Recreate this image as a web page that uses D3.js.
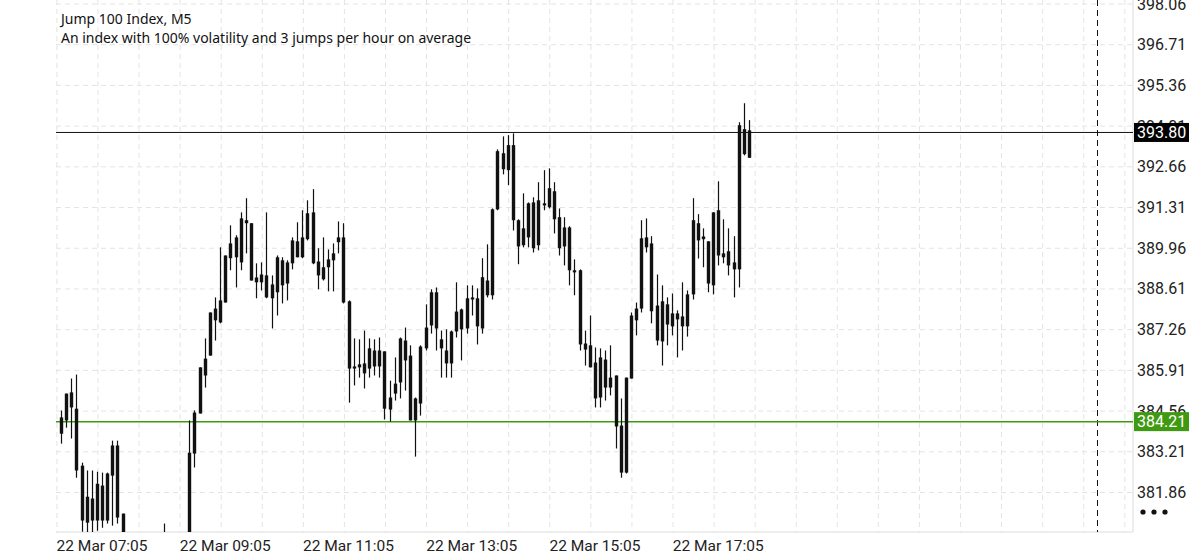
<!DOCTYPE html>
<html><head><meta charset="utf-8">
<script src="https://cdn.jsdelivr.net/npm/d3@7/dist/d3.min.js"></script>
<style>body{margin:0;background:#fff}svg{display:block;font-family:Roboto,"Noto Sans",sans-serif}</style>
</head><body><svg id="c" width="1200" height="554"></svg>
<script>
// [high, bodyTop, bodyBottom, low]
const highs=[384.58,385.14,385.64,385.77,382.85,382.59,382.59,382.55,382.52,382.52,383.58,383.58,381.16,380.4,380.2,380.0,380.1,380.3,380.2,380.4,380.83,380.4,380.3,380.4,380.5,384.25,384.58,386.01,386.97,387.83,388.33,389.99,389.72,390.72,390.39,391.15,391.62,390.79,389.46,389.49,391.15,389.06,389.72,389.66,389.56,390.32,390.82,391.22,391.55,391.92,389.96,390.32,389.92,390.12,390.85,390.79,388.23,386.97,386.94,387.23,386.97,386.94,387.00,386.54,385.57,386.34,387.00,387.33,386.74,385.01,386.74,388.10,388.60,388.66,387.23,387.27,387.23,388.83,387.96,388.73,388.73,388.63,389.63,390.09,391.28,393.24,393.67,393.71,393.77,390.92,391.78,391.48,391.65,392.15,392.55,392.61,392.15,391.28,390.99,390.69,389.59,389.26,387.23,387.73,386.67,386.64,386.57,386.74,385.74,384.98,385.67,387.83,388.16,390.89,390.95,390.36,389.09,388.73,388.33,388.46,387.90,388.83,388.56,391.62,391.09,390.62,390.19,391.15,392.18,390.92,390.62,390.36,394.14,394.77,394.21];
const bodyTops=[384.35,385.14,385.18,384.64,382.75,381.72,381.66,382.15,382.09,382.49,383.42,383.42,381.16,380.2,380.0,379.8,379.9,380.0,380.0,380.1,380.3,380.2,380.1,380.2,380.3,383.18,384.51,386.01,386.30,387.83,387.96,388.23,389.72,390.12,390.32,390.95,390.89,390.79,388.99,389.09,389.06,388.76,389.66,389.56,389.49,390.22,390.19,390.32,391.12,391.15,389.52,389.33,389.59,389.79,390.32,390.32,388.20,386.04,386.11,386.14,386.64,386.57,386.57,386.54,385.01,385.47,386.97,386.90,386.40,384.98,386.70,387.33,388.50,388.50,386.94,386.57,387.20,387.86,387.93,388.30,388.33,388.30,389.00,388.89,391.25,393.18,393.11,393.38,393.38,390.89,390.62,391.45,391.48,391.55,391.45,391.95,391.85,390.99,390.65,390.65,389.23,389.23,386.80,386.74,386.17,386.34,386.27,385.67,385.74,384.08,385.67,387.73,387.96,390.29,390.32,390.12,388.06,388.20,388.10,387.80,387.80,387.70,388.43,390.89,390.79,390.35,390.19,391.15,391.22,389.79,389.86,389.49,394.04,393.91,393.87];
const bodyBottoms=[383.81,384.25,384.68,382.59,380.93,380.86,380.93,380.93,380.93,380.93,382.42,381.03,380.26,379.9,379.6,379.5,379.6,379.7,379.8,379.8,380.0,379.9,379.8,379.9,380.0,380.26,383.15,384.48,385.74,386.40,387.57,387.50,388.16,389.63,389.66,389.49,390.79,388.89,388.83,388.83,388.33,388.30,388.50,388.73,388.79,389.46,389.66,389.66,390.26,389.46,389.06,388.93,389.33,389.56,390.16,388.16,385.97,385.97,386.01,385.81,385.97,386.04,386.04,384.64,384.61,385.14,385.51,386.24,384.25,384.25,384.81,386.64,387.40,387.30,386.64,386.14,386.14,387.20,387.27,387.30,388.26,387.37,387.30,388.40,388.40,391.25,392.58,392.55,390.89,390.02,390.06,390.32,389.96,390.06,391.38,391.32,390.92,389.96,390.02,389.23,389.16,386.77,386.60,386.01,384.98,385.01,385.34,385.34,384.05,382.52,382.52,385.64,387.57,387.96,389.99,387.87,386.90,386.87,387.43,387.37,387.60,387.37,387.37,388.43,390.22,390.26,388.79,388.73,389.72,389.66,389.39,389.26,389.26,393.08,392.96];
const lows=[383.48,384.01,383.65,382.35,380.56,380.4,380.4,380.59,380.69,380.83,380.76,380.83,380.10,379.7,379.4,379.3,379.4,379.5,379.5,379.6,379.8,379.7,379.6,379.7,379.8,380.1,382.69,384.48,385.34,386.40,386.90,387.47,388.16,389.23,388.66,389.23,389.79,388.89,388.30,388.56,388.30,387.30,387.73,388.13,388.23,389.26,389.66,389.63,390.22,389.43,388.60,388.89,388.53,388.53,389.79,388.13,384.84,385.41,385.67,385.31,385.67,385.74,385.67,384.28,384.21,384.91,384.98,385.24,384.25,383.05,384.41,386.57,387.13,386.57,385.67,385.67,385.67,387.00,386.24,387.13,387.73,386.77,387.13,388.33,388.26,391.22,392.41,392.05,390.55,389.43,389.99,389.99,389.82,389.89,391.22,391.28,390.45,389.72,389.39,388.73,388.40,386.57,386.07,386.01,384.68,384.68,384.91,385.08,383.32,382.35,382.49,385.64,387.07,387.83,389.82,387.47,386.74,386.07,386.74,387.07,386.34,386.57,387.03,388.26,389.62,389.33,388.50,388.43,389.39,389.46,389.06,388.33,388.66,393.04,392.96];
const tickValues=[398.06,396.71,395.36,394.01,392.66,391.31,389.96,388.61,387.26,385.91,384.56,383.21,381.86];
const timeLabels=["22 Mar 07:05","22 Mar 09:05","22 Mar 11:05","22 Mar 13:05","22 Mar 15:05","22 Mar 17:05"];
const timeLabelIdx=[8,32,56,80,104,128];
const currentPrice=393.80, levelPrice=384.21;
const title="Jump 100 Index, M5", subtitle="An index with 100% volatility and 3 jumps per hour on average";

const svg=d3.select("#c");
const L=56,R=1133,T=0,B=532;
const x=d3.scaleLinear().domain([0,134]).range([61,749]);
const y=d3.scaleLinear().domain([381.86,398.06]).range([492.5,4]);
svg.append("defs").append("clipPath").attr("id","cp").append("rect").attr("x",L).attr("y",T).attr("width",R-L).attr("height",B-T);
const g=svg.append("g");
for(let k=0;k<27;k++){const gx=x(-0.8+8*k); if(gx>R)break;
 g.append("line").attr("x1",gx).attr("x2",gx).attr("y1",T).attr("y2",B).attr("stroke","#e4e4e4").attr("stroke-dasharray","5,4");}
tickValues.forEach(v=>g.append("line").attr("x1",L).attr("x2",R).attr("y1",y(v)).attr("y2",y(v)).attr("stroke","#e4e4e4").attr("stroke-dasharray","5,4"));
g.append("line").attr("x1",R).attr("x2",R).attr("y1",0).attr("y2",B).attr("stroke","#dcdcdc");
g.append("line").attr("x1",L).attr("x2",R).attr("y1",B).attr("y2",B).attr("stroke","#dcdcdc");
g.append("line").attr("x1",1097.5).attr("x2",1097.5).attr("y1",0).attr("y2",B).attr("stroke","#111").attr("stroke-dasharray","6,4");
g.append("line").attr("x1",L).attr("x2",R).attr("y1",y(currentPrice)).attr("y2",y(currentPrice)).attr("stroke","#111");
g.append("line").attr("x1",L).attr("x2",R).attr("y1",y(levelPrice)).attr("y2",y(levelPrice)).attr("stroke","#3f9a12").attr("stroke-width",1.5);
const cg=svg.append("g").attr("clip-path","url(#cp)");
highs.forEach((h,i)=>{
 const cx=Math.round(x(i))+0.5;
 cg.append("line").attr("x1",cx).attr("x2",cx).attr("y1",y(h)).attr("y2",y(lows[i])).attr("stroke","#111").attr("stroke-width",1.2);
 const t=y(bodyTops[i]), b=y(bodyBottoms[i]);
 cg.append("rect").attr("x",cx-1.7).attr("width",3.4).attr("y",t).attr("height",Math.max(1.5,b-t)).attr("fill","#111");
});
tickValues.forEach(v=>svg.append("text").attr("x",1137).attr("y",y(v)+5.5).attr("font-size",16).attr("fill","#222").text(v.toFixed(2)));
function tag(v,col){const yy=y(v);
 svg.append("rect").attr("x",1134).attr("y",yy-9.5).attr("width",55).attr("height",19).attr("fill",col);
 svg.append("text").attr("x",1137).attr("y",yy+5.5).attr("font-size",16).attr("fill","#fff").text(v.toFixed(2));}
tag(currentPrice,"#000"); tag(levelPrice,"#3f9a12");
timeLabels.forEach((s,k)=>svg.append("text").attr("x",x(timeLabelIdx[k])).attr("y",551).attr("text-anchor","middle").attr("font-size",15.5).attr("fill","#222").text(s));
[1143,1154,1165].forEach(cx=>svg.append("circle").attr("cx",cx).attr("cy",512).attr("r",2.6).attr("fill","#111"));
svg.append("text").attr("x",61).attr("y",24).attr("font-family","'Noto Sans',sans-serif").attr("font-size",14).attr("fill","#111").text(title);
svg.append("text").attr("x",61).attr("y",43).attr("font-family","'Noto Sans',sans-serif").attr("font-size",14).attr("fill","#111").text(subtitle);
</script></body></html>
